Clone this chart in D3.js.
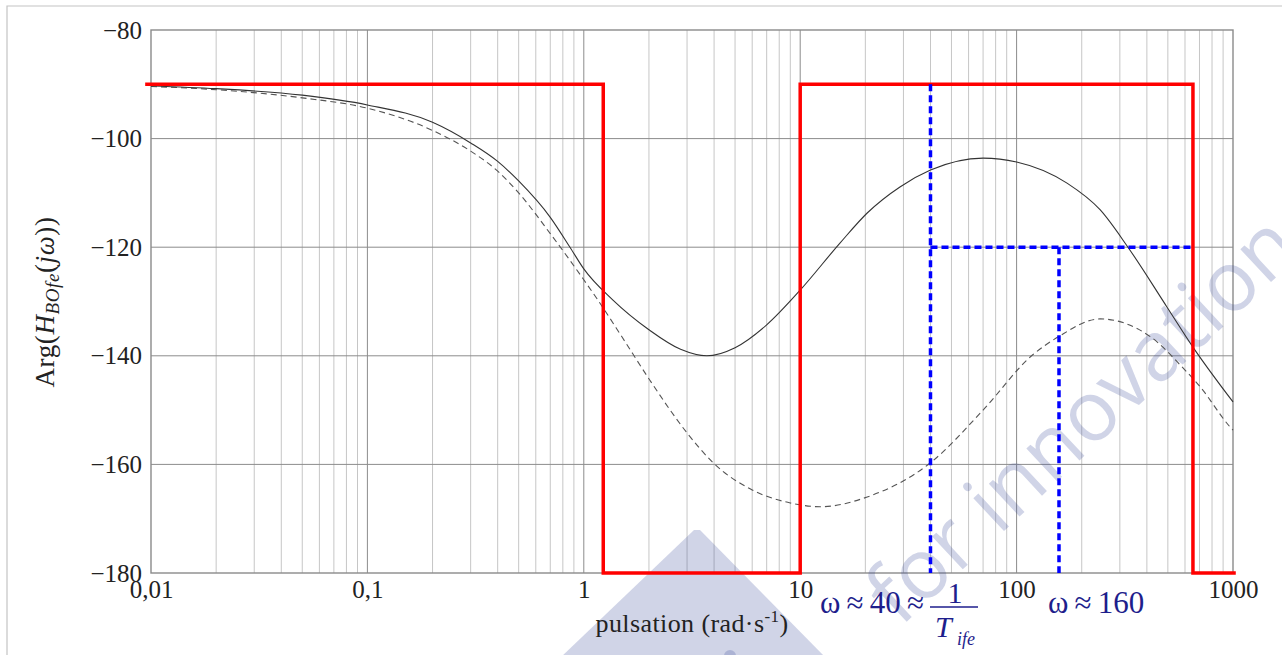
<!DOCTYPE html>
<html><head><meta charset="utf-8">
<script src="https://cdn.jsdelivr.net/npm/d3@7"></script>
<style>body{margin:0;background:#fff}svg{display:block}</style>
</head><body>
<svg id="c" width="1282" height="655"></svg>
<script>
// ---- data ----
const omegaSolid = [0.01,0.02,0.05,0.1,0.2,0.3,0.4,0.5,0.7,0.863,1,1.36,2,2.8,3.7,5,7,10,15.3,20.4,28.9,40,70,100,171,243,327,495,653,1000];
const phaseSolid = [-90.3,-90.8,-92.0,-93.8,-97.0,-100.8,-104.2,-107.8,-114.5,-120,-124,-129.7,-135.2,-138.8,-140,-138.5,-134.3,-127.9,-119.2,-113.7,-108.9,-105.8,-103.6,-104.3,-108.2,-113.1,-120,-131,-138.4,-148.5];
const omegaDashed = [0.01,0.02,0.05,0.1,0.2,0.3,0.4,0.5,0.7,1,1.16,1.5,2.02,3.0,3.96,6.0,9.0,12.4,20.4,40,70,118,156,243,416,580,705,964,1000];
const phaseDashed = [-90.4,-91,-92.5,-94.4,-98.5,-102.3,-106,-110,-117.5,-126,-129.7,-136.5,-144.5,-154.2,-159.7,-164.7,-167.1,-167.8,-166,-159.7,-150,-139.9,-136.5,-133.2,-136.5,-142,-145.7,-153,-153.7];
const omegaRed = [0.0094,1.23,1.23,10,10,653,653,1030];
const phaseRed = [-90,-90,-180,-180,-90,-90,-180,-180];
const blueOmega = [[40,40],[40,653],[157,157]];
const bluePhase = [[-90,-180],[-120,-120],[-120,-180]];
const yTicks = [-80,-100,-120,-140,-160,-180];
const xTicks = [0.01,0.1,1,10,100,1000];
const xTickLabels = ["0,01","0,1","1","10","100","1000"];

// ---- layout ----
const svg = d3.select("#c");
const x = d3.scaleLog().domain([0.01,1000]).range([151,1233]);
const y = d3.scaleLinear().domain([-180,-80]).range([573,30]);
const serif = "'Liberation Serif','Times New Roman',serif";

// page frame
svg.append("path").attr("d","M7,660 L7,6 L1290,6").attr("fill","none").attr("stroke","#c4c4c4").attr("stroke-width",1.2);

// grid
const minor = [];
for (let n=-2;n<=2;n++) for (let k=2;k<=9;k++) minor.push(k*Math.pow(10,n));
const grid = svg.append("g");
grid.selectAll(".mn").data(minor).join("line")
  .attr("x1",d=>x(d)).attr("x2",d=>x(d)).attr("y1",y(-80)).attr("y2",y(-180))
  .attr("stroke","#c6c6c6").attr("stroke-width",1);
grid.selectAll(".mj").data([0.1,1,10,100]).join("line")
  .attr("x1",d=>x(d)).attr("x2",d=>x(d)).attr("y1",y(-80)).attr("y2",y(-180))
  .attr("stroke","#8c8c8c").attr("stroke-width",1);
grid.selectAll(".hz").data([-100,-120,-140,-160]).join("line")
  .attr("x1",x(0.01)).attr("x2",x(1000)).attr("y1",d=>y(d)).attr("y2",d=>y(d))
  .attr("stroke","#8c8c8c").attr("stroke-width",1);
svg.append("rect").attr("x",x(0.01)).attr("y",y(-80)).attr("width",x(1000)-x(0.01)).attr("height",y(-180)-y(-80))
  .attr("fill","none").attr("stroke","#8a8a8a").attr("stroke-width",1.4);

// watermark
const wm = svg.append("g").attr("fill","#3a4a9a").attr("fill-opacity",0.24);
wm.append("path").attr("d","M560,658 L694,530 L700,530 L826,658 Z");
wm.append("circle").attr("cx",730).attr("cy",656).attr("r",6);
wm.append("text").attr("transform","translate(900,628) rotate(-43)")
  .attr("font-family","'Open Sans',sans-serif").attr("font-weight",400).attr("font-size",84)
  .text("for innovation");

// axes
const ax = svg.append("g").attr("transform",`translate(0,${y(-180)})`)
  .call(d3.axisBottom(x).tickValues(xTicks).tickFormat((d,i)=>xTickLabels[i]).tickSize(0).tickPadding(7));
ax.select(".domain").remove();
ax.selectAll("text").style("font-family",serif).style("font-size","25px").attr("fill","#222");
const ay = svg.append("g").attr("transform",`translate(${x(0.01)},0)`)
  .call(d3.axisLeft(y).tickValues(yTicks).tickFormat(d=>"\u2212"+Math.abs(d)).tickSize(0).tickPadding(9));
ay.select(".domain").remove();
ay.selectAll("text").style("font-family",serif).style("font-size","25px").attr("fill","#222");

// axis labels
const yl = svg.append("text").attr("transform","translate(54,302) rotate(-90)").attr("text-anchor","middle")
  .style("font-family",serif).style("font-size","27px").attr("letter-spacing",0.6).attr("fill","#222");
yl.append("tspan").text("Arg(");
yl.append("tspan").attr("font-style","italic").text("H");
yl.append("tspan").attr("font-style","italic").style("font-size","19px").attr("dy",5).text("BOfe");
yl.append("tspan").attr("dy",-5).text("(");
yl.append("tspan").attr("font-style","italic").text("jω");
yl.append("tspan").text("))");

const xl = svg.append("text").attr("x",692).attr("y",632).attr("text-anchor","middle")
  .style("font-family",serif).style("font-size","26px").attr("letter-spacing",0.4).attr("fill","#222");
xl.append("tspan").text("pulsation (rad·s");
xl.append("tspan").style("font-size","17px").attr("dy",-10).text("-1");
xl.append("tspan").attr("dy",10).text(")");

// curves
const line = d3.line().x(d=>x(d[0])).y(d=>y(d[1])).curve(d3.curveMonotoneX);
svg.append("path").datum(d3.zip(omegaDashed,phaseDashed)).attr("d",line)
  .attr("fill","none").attr("stroke","#555").attr("stroke-width",1.1).attr("stroke-dasharray","6,4");
svg.append("path").datum(d3.zip(omegaSolid,phaseSolid)).attr("d",line)
  .attr("fill","none").attr("stroke","#333").attr("stroke-width",1.1);

// red
const lin = d3.line().x(d=>x(d[0])).y(d=>y(d[1]));
svg.append("path").datum(d3.zip(omegaRed,phaseRed)).attr("d",lin)
  .attr("fill","none").attr("stroke","#ff0000").attr("stroke-width",3.5);

// blue dotted
blueOmega.forEach((om,i)=>{
  svg.append("path").datum(d3.zip(om,bluePhase[i])).attr("d",lin)
    .attr("fill","none").attr("stroke","#0000ff").attr("stroke-width",3.5).attr("stroke-dasharray","7,4");
});

// annotations
const navy = "#1e1e8c";
svg.append("text").attr("x",820).attr("y",613).style("font-family",serif).style("font-size","31px").attr("fill",navy)
  .text("ω\u2009≈\u200940\u2009≈");
svg.append("text").attr("x",955).attr("y",603).attr("text-anchor","middle").style("font-family",serif).style("font-size","30px").attr("fill",navy).text("1");
svg.append("line").attr("x1",930).attr("x2",978).attr("y1",607).attr("y2",607).attr("stroke",navy).attr("stroke-width",1.6);
svg.append("text").attr("x",935).attr("y",637).style("font-family",serif).attr("font-style","italic").style("font-size","30px").attr("fill",navy).text("T");
svg.append("text").attr("x",957).attr("y",645).style("font-family",serif).attr("font-style","italic").style("font-size","18px").attr("fill",navy).text("ife");
svg.append("text").attr("x",1048).attr("y",613).style("font-family",serif).style("font-size","31px").attr("fill",navy)
  .text("ω\u2009≈\u2009160");
</script>
</body></html>
